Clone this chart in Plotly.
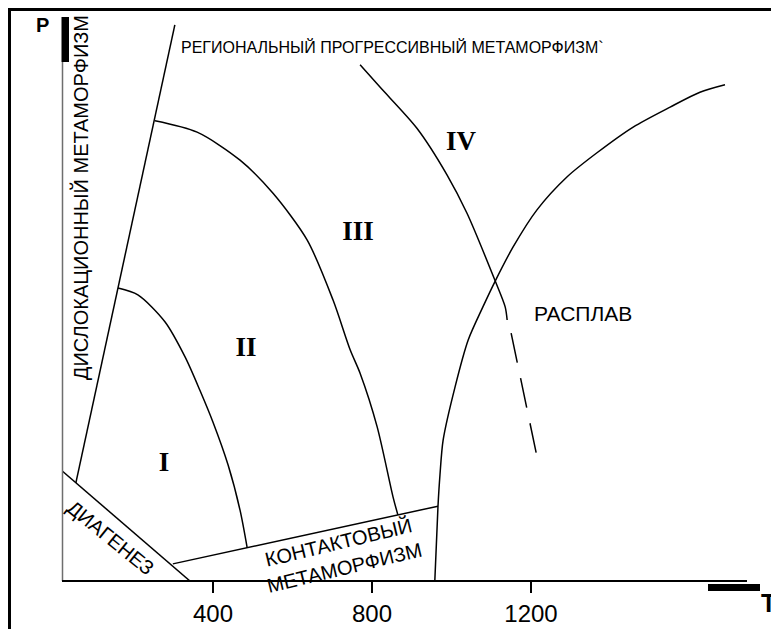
import plotly.graph_objects as go

# ---------------- data (T in °C, P in relative units 0..100) ----------------
T_ticks = [400, 800, 1200]
T_tick_labels = ["400", "800", "1200"]

T_dislocation = [55, 304]
P_dislocation = [17.2, 97.4]

T_diagenesis = [20, 342]
P_diagenesis = [19.3, 0.0]

T_contact = [299, 966]
P_contact = [3.0, 13.1]

T_melt = [958, 966, 971, 979, 1009, 1042, 1079, 1109, 1155, 1215, 1291, 1366, 1457, 1550, 1625, 1688]
P_melt = [0.0, 13.1, 18.6, 24.7, 34.0, 42.2, 48.0, 52.4, 58.5, 65.0, 70.8, 75.0, 79.5, 83.0, 85.6, 86.9]

T_zone_1_2 = [161, 211, 279, 330, 367, 400, 438, 468, 486]
P_zone_1_2 = [51.3, 50.1, 45.4, 39.2, 33.4, 27.8, 20.3, 12.4, 5.8]

T_zone_2_3 = [254, 360, 468, 551, 637, 702, 745, 770, 813, 853, 865]
P_zone_2_3 = [80.6, 78.6, 73.7, 67.9, 59.7, 49.2, 40.5, 36.4, 27.0, 14.7, 11.6]

T_zone_3_4 = [770, 820, 913, 989, 1039, 1109, 1135, 1140]
P_zone_3_4 = [90.4, 86.5, 79.3, 71.1, 64.4, 52.7, 48.0, 45.7]

T_zone_3_4_dashed = [1150, 1218]
P_zone_3_4_dashed = [43.4, 20.8]

zone_names = ["I", "II", "III", "IV"]
T_zone_labels = [277, 483, 765, 1024]
P_zone_labels = [20.5, 40.6, 60.9, 76.7]

# ---------------- figure geometry ----------------
# The page body adds an 8px margin, so the figure is laid out 8px up/left.
PAGE_OFF = 8
W, H = 779, 629
PLOT_L, PLOT_R, PLOT_T, PLOT_B = 62, 760, 10, 581   # wanted page pixels of the plot area
PW, PH = PLOT_R - PLOT_L, PLOT_B - PLOT_T


def px_x(x):
    return (x - PLOT_L) / PW


def px_y(y):
    return (PLOT_B - y) / PH


SANS = "Liberation Sans, Arial, sans-serif"
SERIF = "Liberation Serif, Times New Roman, serif"

fig = go.Figure()


def add_line(T, P, shape="linear", dash=None, smoothing=1.0):
    ln = dict(color="black", width=1.5, shape=shape)
    if shape == "spline":
        ln["smoothing"] = smoothing
    if dash:
        ln["dash"] = dash
    fig.add_trace(go.Scatter(x=T, y=P, mode="lines", line=ln,
                             hoverinfo="skip", showlegend=False))


add_line(T_dislocation, P_dislocation)
add_line(T_diagenesis, P_diagenesis)
add_line(T_contact, P_contact)
add_line(T_melt, P_melt, shape="spline", smoothing=0.8)
add_line(T_zone_1_2, P_zone_1_2, shape="spline", smoothing=0.8)
add_line(T_zone_2_3, P_zone_2_3, shape="spline", smoothing=0.8)
add_line(T_zone_3_4, P_zone_3_4, shape="spline", smoothing=0.8)
add_line(T_zone_3_4_dashed, P_zone_3_4_dashed, dash="30px,16px")

fig.add_trace(go.Scatter(
    x=T_zone_labels, y=P_zone_labels, mode="text", text=zone_names,
    textfont=dict(family=SERIF, size=27, color="black", weight="bold"),
    hoverinfo="skip", showlegend=False))

shapes = [
    # outer frame (top and left)
    dict(type="line", xref="paper", yref="paper", x0=px_x(8), x1=px_x(820), y0=px_y(9.5), y1=px_y(9.5),
         line=dict(color="black", width=3)),
    dict(type="line", xref="paper", yref="paper", x0=px_x(9.5), x1=px_x(9.5), y0=px_y(8), y1=px_y(660),
         line=dict(color="black", width=3)),
    # P axis
    dict(type="line", xref="paper", yref="paper", x0=px_x(62.5), x1=px_x(62.5), y0=px_y(62), y1=px_y(581),
         line=dict(color="#6e6e6e", width=1.5)),
    dict(type="rect", xref="paper", yref="paper", x0=px_x(61.5), x1=px_x(69), y0=px_y(17), y1=px_y(62),
         line=dict(width=0), fillcolor="black"),
    # T axis
    dict(type="line", xref="paper", yref="paper", x0=px_x(62), x1=px_x(747), y0=px_y(581), y1=px_y(581),
         line=dict(color="black", width=2)),
    dict(type="rect", xref="paper", yref="paper", x0=px_x(708), x1=px_x(760), y0=px_y(584), y1=px_y(591),
         line=dict(width=0), fillcolor="black"),
]

center = dict(xanchor="center", yanchor="middle", showarrow=False)
annotations = [
    dict(text="<b>P</b>", xref="paper", yref="paper", x=px_x(42), y=px_y(25),
         font=dict(family=SANS, size=20, color="black"), **center),
    dict(text="<b>T</b>", xref="paper", yref="paper", x=px_x(768), y=px_y(603),
         font=dict(family=SANS, size=25, color="black"), **center),
    dict(text="РЕГИОНАЛЬНЫЙ ПРОГРЕССИВНЫЙ МЕТАМОРФИЗМ`", x=852, y=93.5,
         font=dict(family=SANS, size=16, color="black"), **center),
    dict(text="ДИСЛОКАЦИОННЫЙ МЕТАМОРФИЗМ", x=65, y=67.2, textangle=-90,
         font=dict(family=SANS, size=20, color="black"), **center),
    dict(text="РАСПЛАВ", x=1331, y=46.9,
         font=dict(family=SANS, size=21, color="black"), **center),
    dict(text="ДИАГЕНЕЗ", x=143, y=7.5, textangle=39,
         font=dict(family=SANS, size=20, color="black"), **center),
    dict(text="КОНТАКТОВЫЙ<br>МЕТАМОРФИЗМ", x=724, y=4.7, textangle=-13.5,
         font=dict(family=SANS, size=20, color="black"), **center),
]

fig.update_layout(
    width=W, height=H,
    margin=dict(l=PLOT_L - PAGE_OFF, r=W - (PLOT_R - PAGE_OFF),
                t=PLOT_T - PAGE_OFF, b=H - (PLOT_B - PAGE_OFF), pad=0),
    paper_bgcolor="white", plot_bgcolor="white",
    shapes=shapes, annotations=annotations,
    xaxis=dict(range=[20.1, 1776.1], tickvals=T_ticks, ticktext=T_tick_labels,
               ticks="outside", ticklen=11, tickwidth=2, tickcolor="black",
               showline=False, showgrid=False, zeroline=False, ticklabelstandoff=0,
               tickfont=dict(family=SANS, size=24, color="black")),
    yaxis=dict(range=[0, 100], visible=False, showgrid=False, zeroline=False),
)

fig.write_html("out.html")
